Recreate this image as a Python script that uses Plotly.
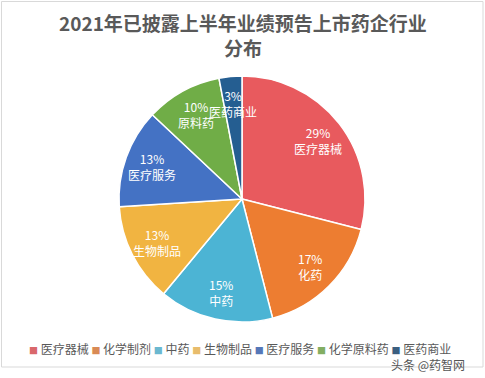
import math
import plotly.graph_objects as go

# ---- data ----
categories = ["医疗器械", "化学制剂", "中药", "生物制品", "医疗服务", "化学原料药", "医药商业"]
short_labels = ["医疗器械", "化药", "中药", "生物制品", "医疗服务", "原料药", "医药商业"]
shares = [29, 17, 15, 13, 13, 10, 3]
colors = ["#E85A5E", "#ED7D31", "#4CB4D4", "#F1B441", "#4472C4", "#70AD47", "#255E91"]
legend_colors = ["#D9686B", "#D98A55", "#6BB8D0", "#E8BC6C", "#5577B8", "#83AE62", "#3B5F80"]

title_text = "2021年已披露上半年业绩预告上市药企行业<br>分布"
watermark = "头条 @药智网"

W, H = 485, 378
FONT = "Noto Sans CJK SC, Microsoft YaHei, sans-serif"
CX, CY, R = 242, 199, 123   # pie centre / radius in pixels
LABEL_R = 0.78

def px(x):
    return x / W

def py(y):
    return 1 - y / H

fig = go.Figure()
fig.add_trace(go.Pie(
    labels=categories,
    values=shares,
    textinfo="none",
    marker=dict(colors=colors, line=dict(color="white", width=1.5)),
    sort=False,
    direction="clockwise",
    rotation=0,
    showlegend=False,
    hoverinfo="skip",
    domain=dict(x=[px(CX - R), px(CX + R)], y=[py(CY + R), py(CY - R)]),
))

# slice labels, placed at the mid-angle of each slice
total = sum(shares)
cum = 0
for v, lab in zip(shares, short_labels):
    mid = (cum + v / 2) / total * 2 * math.pi
    cum += v
    lx = CX + LABEL_R * R * math.sin(mid)
    ly = CY - LABEL_R * R * math.cos(mid)
    fig.add_annotation(
        text=f"{v}%<br>{lab}", x=px(lx), y=py(ly), xref="paper", yref="paper",
        xanchor="center", yanchor="middle", showarrow=False,
        font=dict(size=12, color="white", family=FONT),
    )

# legend built from the category list
parts = []
for c, lc in zip(categories, legend_colors):
    parts.append(f"<span style='font-size:9px;color:{lc}'>■</span> {c}")
legend_html = " ".join(parts)

fig.add_annotation(
    text=legend_html, x=px(240), y=py(348), xref="paper", yref="paper",
    xanchor="center", yanchor="middle", showarrow=False,
    font=dict(size=12, color="#595959", family=FONT),
)
fig.add_annotation(
    text=watermark, x=px(467), y=py(364), xref="paper", yref="paper",
    xanchor="right", yanchor="middle", showarrow=False,
    font=dict(size=12, color="#555555", family=FONT),
)

# title
fig.add_annotation(
    text=f"<b>{title_text}</b>", x=px(243), y=py(34.5), xref="paper", yref="paper",
    xanchor="center", yanchor="middle", showarrow=False,
    font=dict(size=19, color="#595959", family=FONT),
)

fig.add_shape(type="rect", xref="paper", yref="paper",
              x0=px(1.5), x1=px(483), y0=py(367), y1=py(1.5),
              line=dict(color="#D9D9D9", width=1))

fig.update_layout(
    width=W, height=H,
    margin=dict(l=0, r=0, t=0, b=0),
    paper_bgcolor="white", plot_bgcolor="white",
)

fig.write_html("out.html", config={"displayModeBar": False},
               post_script="document.body.style.margin='0px';")
